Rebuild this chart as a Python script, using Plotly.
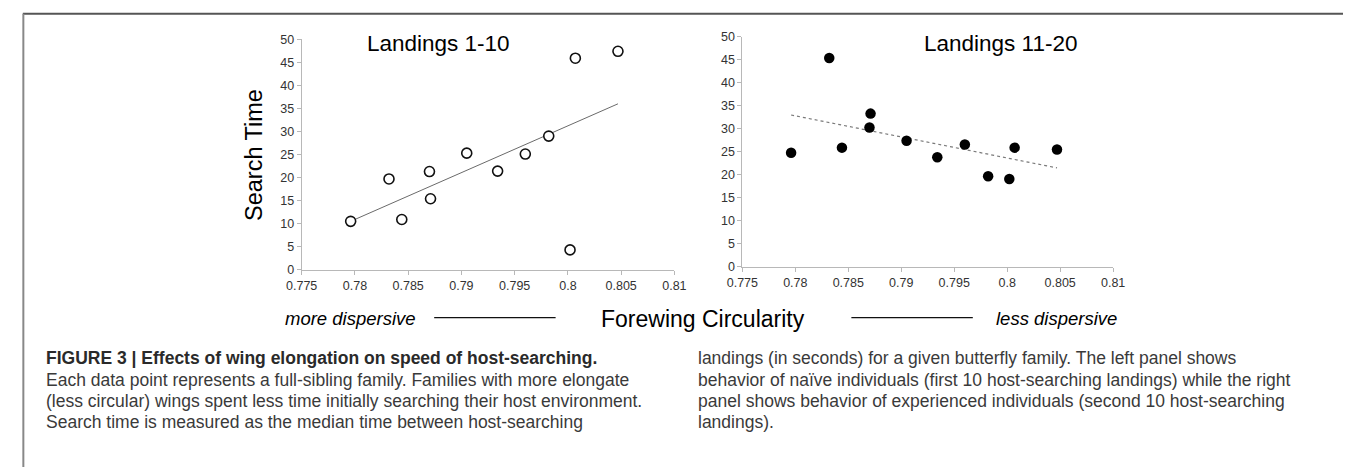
import plotly.graph_objects as go

# ---- data ----
circularity = [0.7796, 0.7832, 0.7844, 0.7870, 0.7871, 0.7905,
               0.7934, 0.7960, 0.7982, 0.8002, 0.8007, 0.8047]
search_1_10 = [10.5, 19.7, 10.9, 21.3, 15.4, 25.3,
               21.4, 25.1, 29.0, 4.3, 45.9, 47.4]
search_11_20 = [24.8, 45.4, 25.9, 30.3, 33.3, 27.4,
                23.8, 26.6, 19.7, 19.1, 25.9, 25.5]
trend_x = [0.7796, 0.8047]
trend_1_10 = [10.5, 36.0]
trend_11_20 = [33.0, 21.5]

x_ticks = [0.775, 0.78, 0.785, 0.79, 0.795, 0.8, 0.805, 0.81]
x_tick_labels = ["0.775", "0.78", "0.785", "0.79", "0.795", "0.8", "0.805", "0.81"]
y_ticks = [0, 5, 10, 15, 20, 25, 30, 35, 40, 45, 50]
y_tick_labels = [str(v) for v in y_ticks]

panel_titles = ["Landings 1-10", "Landings 11-20"]
y_title = "Search Time"
x_title = "Forewing Circularity"
left_note = "more dispersive"
right_note = "less dispersive"

caption_left = [
    "<b>FIGURE 3 | Effects of wing elongation on speed of host-searching.</b>",
    "Each data point represents a full-sibling family. Families with more elongate",
    "(less circular) wings spent less time initially searching their host environment.",
    "Search time is measured as the median time between host-searching",
]
caption_right = [
    "landings (in seconds) for a given butterfly family. The left panel shows",
    "behavior of naïve individuals (first 10 host-searching landings) while the right",
    "panel shows behavior of experienced individuals (second 10 host-searching",
    "landings).",
]

W, H = 1355, 474
FONT = "Liberation Sans, Arial, Helvetica, sans-serif"


def px(x):
    return x / W


def py(y):
    return 1 - y / H


fig = go.Figure()

# left panel
fig.add_trace(go.Scatter(x=trend_x, y=trend_1_10, mode="lines",
                         line=dict(color="#6a6a6a", width=1),
                         xaxis="x", yaxis="y", showlegend=False, hoverinfo="skip"))
fig.add_trace(go.Scatter(x=circularity, y=search_1_10, mode="markers",
                         marker=dict(symbol="circle", size=10, color="white",
                                     line=dict(color="#111", width=1.6)),
                         xaxis="x", yaxis="y", showlegend=False))
# right panel
fig.add_trace(go.Scatter(x=trend_x, y=trend_11_20, mode="lines",
                         line=dict(color="#7a7a7a", width=1.2, dash="dot"),
                         xaxis="x2", yaxis="y2", showlegend=False, hoverinfo="skip"))
fig.add_trace(go.Scatter(x=circularity, y=search_11_20, mode="markers",
                         marker=dict(symbol="circle", size=10.5, color="#000",
                                     line=dict(color="#000", width=0)),
                         xaxis="x2", yaxis="y2", showlegend=False))

axis_common = dict(showgrid=False, zeroline=False, showline=True,
                   linecolor="#b8b8b8", linewidth=1, ticks="outside",
                   ticklen=4, tickcolor="#b8b8b8",
                   tickfont=dict(family=FONT, size=12.5, color="#333"))

fig.update_layout(
    width=W, height=H,
    margin=dict(l=0, r=0, t=0, b=0),
    paper_bgcolor="white", plot_bgcolor="white",
    xaxis=dict(domain=[px(291.7), px(672.3)], range=[0.775, 0.81],
               tickvals=x_ticks, ticktext=x_tick_labels, anchor="y", **axis_common),
    yaxis=dict(domain=[py(270.7), py(33.3)], range=[0, 50],
               tickvals=y_ticks, ticktext=y_tick_labels, anchor="x", **axis_common),
    xaxis2=dict(domain=[px(741.7), px(1120.3)], range=[0.775, 0.81],
                tickvals=x_ticks, ticktext=x_tick_labels, anchor="y2", **axis_common),
    yaxis2=dict(domain=[py(267.7), py(30.7)], range=[0, 50],
                tickvals=y_ticks, ticktext=y_tick_labels, anchor="x2", **axis_common),
)

ann = []


def text(x, y, s, size, color="#000", xanchor="center", italic=False, angle=0):
    ann.append(dict(x=px(x), y=py(y), xref="paper", yref="paper", text=s,
                    showarrow=False, xanchor=xanchor, yanchor="middle",
                    textangle=angle,
                    font=dict(family=FONT, size=size, color=color,
                              style="italic" if italic else "normal")))


text(431.7, 38, panel_titles[0], 22.5)
text(1005.7, 38, panel_titles[1], 22.5)
text(243, 152.5, y_title, 23.5, angle=-90)
text(702, 321, x_title, 23)
text(342, 321, left_note, 18.5, italic=True)
text(1062, 321, right_note, 18.5, italic=True)

for i, s in enumerate(caption_left):
    text(29, 362 + 22 * i, s, 17.5, color="#2a2a2a" if i == 0 else "#3a3a3a", xanchor="left")
for i, s in enumerate(caption_right):
    text(694, 362 + 22 * i, s, 17.5, color="#3a3a3a", xanchor="left")

shapes = [
    dict(type="line", xref="paper", yref="paper", x0=px(7), x1=1, y0=py(7), y1=py(7),
         line=dict(color="#555", width=2)),
    dict(type="line", xref="paper", yref="paper", x0=px(7.5), x1=px(7.5), y0=py(7), y1=0,
         line=dict(color="#888", width=2)),
    dict(type="line", xref="paper", yref="paper", x0=px(427), x1=px(551), y0=py(320), y1=py(320),
         line=dict(color="#111", width=1.3)),
    dict(type="line", xref="paper", yref="paper", x0=px(853), x1=px(977), y0=py(320), y1=py(320),
         line=dict(color="#111", width=1.3)),
]

fig.update_layout(annotations=ann, shapes=shapes)
fig.write_html("out.html", config={"displayModeBar": False},
               post_script="document.body.style.margin='0';")
